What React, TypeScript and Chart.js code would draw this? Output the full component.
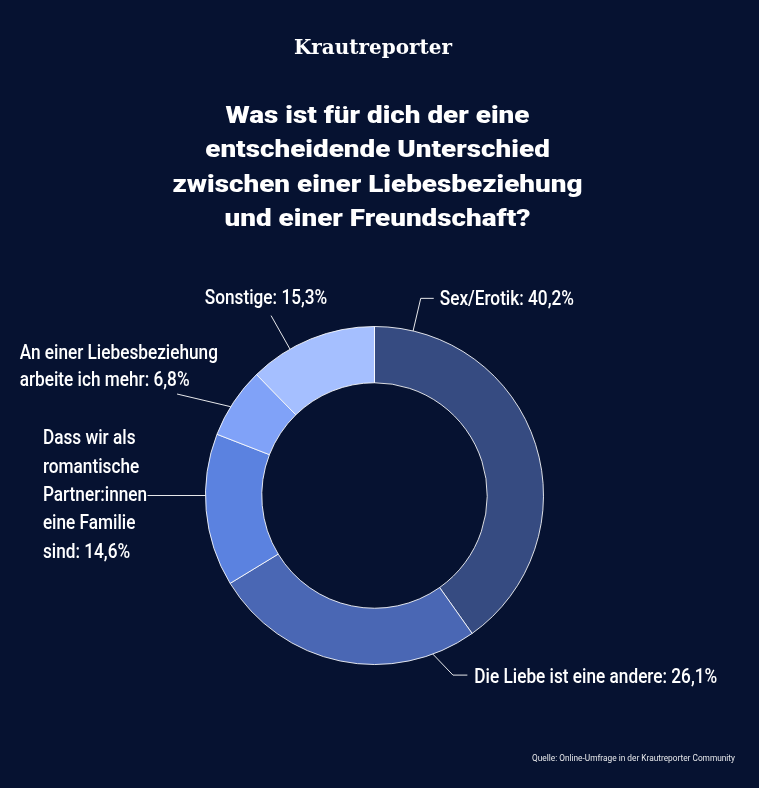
import { useEffect, useRef } from "react";
import { Chart, registerables } from "chart.js";

Chart.register(...registerables);

const brand = "Krautreporter";
const titleLines = [
  "Was ist für dich der eine",
  "entscheidende Unterschied",
  "zwischen einer Liebesbeziehung",
  "und einer Freundschaft?",
];
const categories = [
  "Sex/Erotik",
  "Die Liebe ist eine andere",
  "Dass wir als romantische Partner:innen eine Familie sind",
  "An einer Liebesbeziehung arbeite ich mehr",
  "Sonstige",
];
// slice sizes as drawn in the picture
const sliceValues = [40.2, 26.1, 14.6, 6.8, 12.3];
// label texts as printed
const labelLines = [
  ["Sex/Erotik: 40,2%"],
  ["Die Liebe ist eine andere: 26,1%"],
  ["Dass wir als", "romantische", "Partner:innen", "eine Familie", "sind: 14,6%"],
  ["An einer Liebesbeziehung", "arbeite ich mehr: 6,8%"],
  ["Sonstige: 15,3%"],
];
const sourceText = "Quelle: Online-Umfrage in der Krautreporter Community";

// styling / layout
const BG = "#061231";
const sliceColors = ["#364b81", "#4a67b4", "#5b82e0", "#80a2f8", "#a5bfff"];
const labelLayout = [
  { anchorDeg: 13.2, elbowDeg: 13.2, elbowOut: 33.5, tail: 13, align: "left", dx: 6, dy: -1 },
  { anchorDeg: 159.8, elbowDeg: 156.4, elbowOut: 27, tail: 14.4, align: "left", dx: 7, dy: 0 },
  { anchorDeg: 270, elbowDeg: 270, elbowOut: 0, tail: -58, align: "left", dx: -104.6, dy: -2 },
  { anchorDeg: 301.7, elbowDeg: 297.2, elbowOut: 53, tail: 0, align: "left", dx: -157.4, dy: -29 },
  { anchorDeg: 330, elbowDeg: 330.1, elbowOut: 38.5, tail: 0, align: "center", dx: -5, dy: -19 },
];
const LABEL_FONT = 21;
const LABEL_SX = 0.82;
const LABEL_LH = [27, 27, 28.3, 27, 27];

function drawScaled(ctx: CanvasRenderingContext2D, text: string, x: number, y: number, align: CanvasTextAlign, sx: number) {
  ctx.save();
  ctx.translate(x, y);
  ctx.scale(sx, 1);
  ctx.textAlign = align;
  ctx.fillText(text, 0, 0);
  ctx.restore();
}

const decorPlugin = {
  id: "decor",
  beforeDraw(chart: any) {
    const ctx = chart.ctx as CanvasRenderingContext2D;
    ctx.save();
    ctx.fillStyle = BG;
    ctx.fillRect(0, 0, chart.width, chart.height);
    ctx.restore();
  },
  afterDraw(chart: any) {
    const ctx = chart.ctx as CanvasRenderingContext2D;
    ctx.save();
    ctx.fillStyle = "#ffffff";
    ctx.textBaseline = "alphabetic";
    // brand
    ctx.font = "bold 20px 'DejaVu Serif'";
    const bsx = 158 / ctx.measureText(brand).width;
    drawScaled(ctx, brand, 373, 53.5, "center", bsx);
    // title
    ctx.font = "900 24px Roboto";
    const tsx = 410 / ctx.measureText(titleLines[2]).width;
    const tb = [122.5, 157, 191.5, 226];
    titleLines.forEach((t, i) => drawScaled(ctx, t, 377.5, tb[i], "center", tsx));

    // labels
    const meta = chart.getDatasetMeta(0);
    const arc = meta.data[0] as any;
    const cx = arc.x, cy = arc.y, R = arc.outerRadius;
    const pt = (deg: number, r: number) => {
      const a = ((deg - 90) * Math.PI) / 180;
      return [cx + r * Math.cos(a), cy + r * Math.sin(a)];
    };
    ctx.strokeStyle = "rgba(255,255,255,0.9)";
    ctx.lineWidth = 1;
    ctx.font = `500 ${LABEL_FONT}px Roboto`;
    labelLayout.forEach((L, i) => {
      const [ax, ay] = pt(L.anchorDeg, R);
      const [ex, ey] = pt(L.elbowDeg, R + L.elbowOut);
      const endX = ex + L.tail;
      ctx.beginPath();
      ctx.moveTo(ax, ay);
      ctx.lineTo(ex, ey);
      if (L.tail !== 0) ctx.lineTo(endX, ey);
      ctx.stroke();
      const lines = labelLines[i];
      const lh = LABEL_LH[i];
      const blockC = ey + L.dy;
      lines.forEach((t, j) => {
        const c = blockC + (j - (lines.length - 1) / 2) * lh;
        const base = c + (0.711 * LABEL_FONT) / 2;
        drawScaled(ctx, t, endX + L.dx, base, L.align as CanvasTextAlign, LABEL_SX);
      });
    });

    // source
    ctx.font = "9.5px Roboto";
    ctx.fillStyle = "rgba(255,255,255,0.9)";
    const ssx = 203 / ctx.measureText(sourceText).width;
    drawScaled(ctx, sourceText, 735, 760.5, "right", ssx);
    ctx.restore();
  },
};

export default function App() {
  const ref = useRef<HTMLCanvasElement | null>(null);
  useEffect(() => {
    document.body.style.margin = "0";
    document.body.style.background = BG;
    const canvas = ref.current!;
    const chart = new Chart(canvas, {
      type: "doughnut",
      data: {
        labels: categories,
        datasets: [
          {
            data: sliceValues,
            backgroundColor: sliceColors,
            borderColor: "rgba(255,255,255,0.85)",
            borderWidth: 1,
          },
        ],
      },
      options: {
        responsive: false,
        animation: false,
        devicePixelRatio: 1,
        cutout: "66.7%",
        layout: { padding: { left: 205, right: 215, top: 326, bottom: 123 } },
        plugins: {
          legend: { display: false },
          tooltip: { enabled: false },
          title: { display: false },
        },
      },
      plugins: [decorPlugin],
    });
    return () => chart.destroy();
  }, []);
  return (
    <div style={{ position: "fixed", left: 0, top: 0, width: 759, height: 788, background: BG }}>
      <canvas ref={ref} width={759} height={788} style={{ display: "block" }} />
    </div>
  );
}
